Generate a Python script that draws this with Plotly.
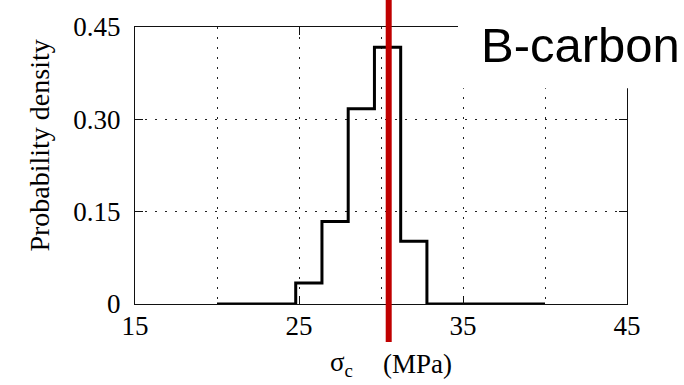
import plotly.graph_objects as go

# Histogram of compressive strength (bin edges in MPa, densities per bin)
bin_edges = [20.0, 24.8, 26.4, 28.0, 29.6, 31.2, 32.8, 40.0]
densities = [0.0, 0.034, 0.134, 0.317, 0.417, 0.102, 0.0]
mean_strength = 30.47

x_ticks = [15, 25, 35, 45]
y_ticks = [0, 0.15, 0.30, 0.45]
y_tick_text = ["0", "0.15", "0.30", "0.45"]

serif = "Liberation Serif"
sans = "Liberation Sans"
dots = "2px,8px"

fig = go.Figure()

# step outline: each density holds until the next edge
fig.add_trace(go.Scatter(
    x=bin_edges,
    y=densities + [densities[-1]],
    mode="lines",
    line=dict(color="black", width=3, shape="hv"),
    showlegend=False,
    hoverinfo="skip",
))

axis_common = dict(
    showline=True, linecolor="#111", linewidth=1.3,
    mirror="ticks", ticks="inside", ticklen=8, tickwidth=1.3, tickcolor="#111",
    showgrid=True, gridcolor="#222", gridwidth=1.2, griddash=dots,
    zeroline=False,
    tickfont=dict(family=serif, size=27, color="black"),
)

fig.update_xaxes(
    range=[15, 45], tickvals=x_ticks, ticklabelstandoff=-3,
    minor=dict(tick0=15, dtick=5, showgrid=True, gridcolor="#222",
               gridwidth=1.2, griddash=dots, ticks=""),
    **axis_common,
)
fig.update_yaxes(
    range=[0, 0.45], tickvals=y_ticks, ticktext=y_tick_text,
    ticklabelstandoff=8,
    **axis_common,
)

# mean strength marker
fig.add_shape(type="line", xref="x", yref="paper",
              x0=mean_strength, x1=mean_strength, y0=-0.137, y1=1.1,
              line=dict(color="#C00000", width=6), layer="above")

# label panel over the top-right corner of the frame
fig.add_shape(type="rect", xref="paper", yref="paper",
              x0=0.6565, x1=1.2, y0=0.779, y1=1.2,
              fillcolor="white", line=dict(width=0), layer="above")

fig.add_annotation(text="B-carbon", xref="paper", yref="paper",
                   x=0.700, y=0.935, xanchor="left", yanchor="middle",
                   showarrow=False, font=dict(family=sans, size=49, color="black"))

fig.add_annotation(text="Probability density", xref="paper", yref="paper",
                   x=-0.193, y=0.572, textangle=-90,
                   xanchor="center", yanchor="middle", showarrow=False,
                   font=dict(family=serif, size=28, color="black"))

fig.add_annotation(text="σ<sub>c</sub>", xref="paper", yref="paper",
                   x=0.4197, y=-0.215, xanchor="center", yanchor="middle",
                   showarrow=False, font=dict(family=serif, size=27, color="black"))
fig.add_annotation(text="(MPa)", xref="paper", yref="paper",
                   x=0.575, y=-0.215, xanchor="center", yanchor="middle",
                   showarrow=False, font=dict(family=serif, size=27, color="black"))

fig.update_layout(
    width=684, height=385,
    margin=dict(l=135, r=57, t=19, b=81, pad=0),
    plot_bgcolor="white", paper_bgcolor="white",
    showlegend=False,
)

fig.write_html("out.html")
